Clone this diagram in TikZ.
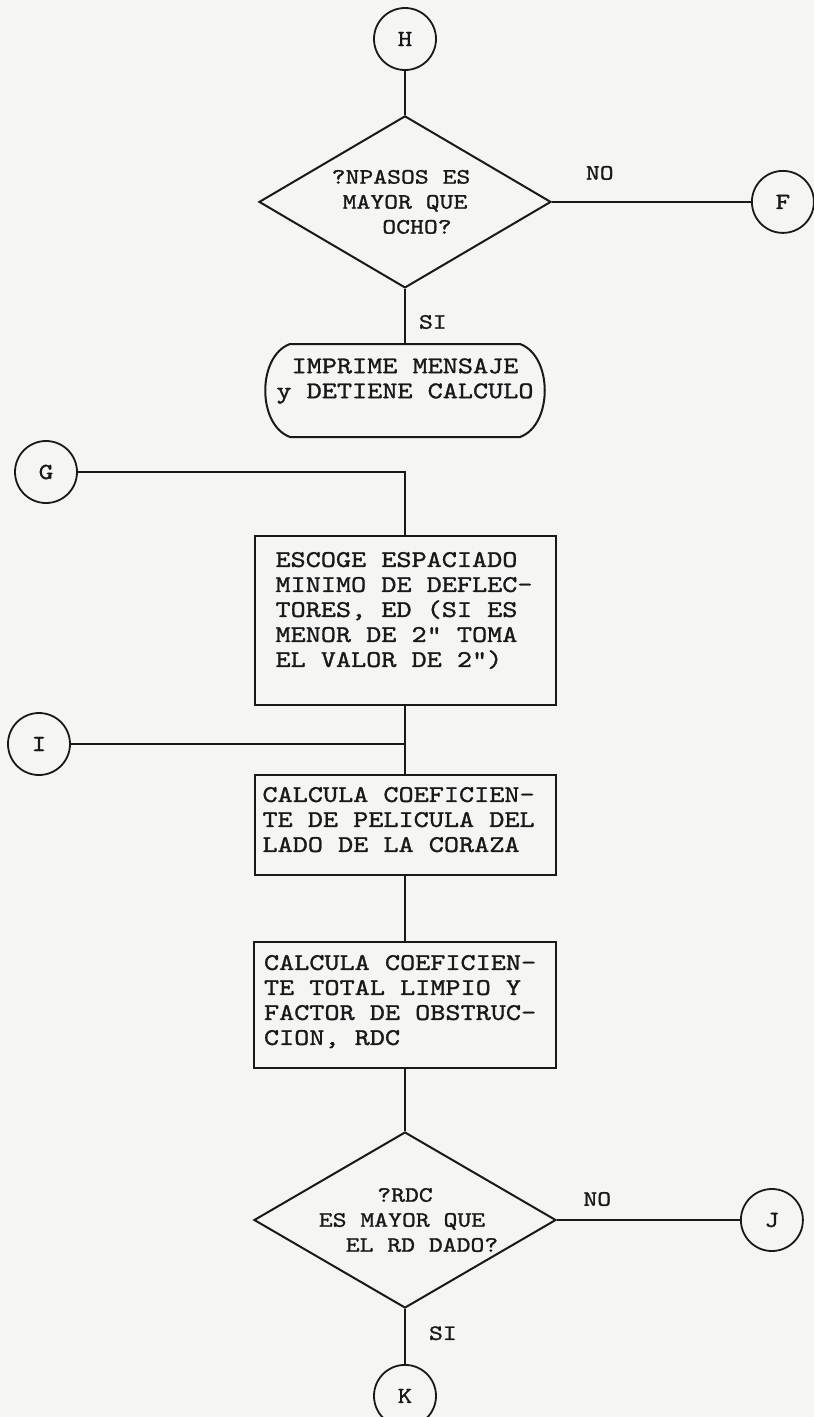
\documentclass[tikz,border=0pt]{standalone}
\usepackage{fontspec}
\usepackage{xcolor}
\usepackage{tikz}
\usetikzlibrary{positioning,shapes.geometric,calc}
\definecolor{fcInk}{RGB}{25,25,25}
\definecolor{fcPaper}{RGB}{245,245,243}
\newfontfamily\fcmono{lmmono10-regular.otf}[FakeStretch=1.2, FakeBold=1.2]
\newcommand{\fcfont}[1]{\fcmono\fontsize{#1}{25}\selectfont}
% shift one centred line sideways without changing its width
\newcommand{\nudge}[2]{\hspace*{#1}#2\hspace*{-#1}}
\tikzset{
  fc/line/.style={line width=2pt, draw=fcInk},
  fc/conn/.style={circle, draw=fcInk, line width=1.8pt, minimum size=62pt,
                  inner sep=0pt, font=\fcfont{23}, text=fcInk},
  fc/box/.style={rectangle, draw=fcInk, line width=2pt, inner sep=0pt,
                 font=\fcfont{24}, text=fcInk},
  fc/decision/.style={diamond, aspect=1.7, draw=fcInk, line width=2pt,
                      inner sep=0pt, align=center, font=\fcfont{22}, text=fcInk},
  fc/term/.style={inner sep=0pt, align=center, font=\fcfont{24}, text=fcInk},
  fc/lbl/.style={inner sep=0pt, font=\fcfont{22}, text=fcInk},
}

\begin{document}
\begin{tikzpicture}[x=1pt, y=-1pt]

  \fill[fcPaper] (0,0) rectangle (814,1417);
  \useasboundingbox (0,0) rectangle (814,1417);

  % ---------------- top: H, test on NPASOS ----------------
  \node[fc/conn] (H) at (405,39) {H};
  \node[fc/decision, minimum width=292pt, minimum height=172pt, below=44pt of H]
    (npasos) {\nudge{-4pt}{?NPASOS ES}\\MAYOR QUE\\\nudge{12pt}{OCHO?}};
  \node[fc/conn, right=199pt of npasos] (F) {F};
  \node[fc/term] (stop) at (405,381) {IMPRIME MENSAJE\\y DETIENE CALCULO};
  \coordinate (stoptop) at ($(stop.center)+(0,-37)$);

  \draw[fc/line] (H) -- (npasos);
  \draw[fc/line] (npasos.east) -- (F.west)
    node[fc/lbl, pos=0.24, above=21pt] {NO};
  \draw[fc/line] (npasos.south) -- (stoptop)
    node[fc/lbl, pos=0.6, right=13pt] {SI};

  % terminal outline: flat top and bottom, bulging sides
  \draw[fc/line] ($(stop.center)+(-115,-37)$) -- ($(stop.center)+(115,-37)$)
    .. controls +(33,12) and +(33,-12) .. ($(stop.center)+(115,56)$)
    -- ($(stop.center)+(-115,56)$)
    .. controls +(-33,-12) and +(-33,12) .. ($(stop.center)+(-115,-37)$) -- cycle;

  % ---------------- main column ----------------
  \node[fc/box, inner xsep=21pt, inner ysep=16pt] (spacing) at (405,620.5)
    {\parbox[c][137pt][t]{259pt}{\raggedright
      ESCOGE ESPACIADO\\MINIMO DE DEFLEC-\\TORES, ED (SI ES\\
      MENOR DE 2" TOMA\\EL VALOR DE 2")}};
  \node[fc/box, inner xsep=8pt, inner ysep=12pt, below=68pt of spacing] (film)
    {\parbox[c][76pt][t]{285pt}{\raggedright
      CALCULA COEFICIEN-\\TE DE PELICULA DEL\\LADO DE LA CORAZA}};
  \node[fc/box, inner xsep=10pt, inner ysep=13pt, below=65pt of film] (clean)
    {\parbox[c][100pt][t]{282pt}{\raggedright
      CALCULA COEFICIEN-\\TE TOTAL LIMPIO Y\\FACTOR DE OBSTRUC-\\CION, RDC}};
  \node[fc/decision, minimum width=302pt, minimum height=176pt, below=62pt of clean]
    (rdc) {?RDC\\\nudge{-6pt}{ES MAYOR QUE}\\\nudge{17pt}{EL RD DADO?}};
  \node[fc/conn, right=183pt of rdc] (J) {J};
  \node[fc/conn, below=55pt of rdc] (K) {K};

  % ---------------- entries G and I ----------------
  \node[fc/conn] (G) at (46,472) {G};
  \node[fc/conn] (I) at (39,744) {I};
  \draw[fc/line] (G.east) -| (spacing.north);
  \draw[fc/line] (I.east) -- (I.east -| spacing.south);

  \draw[fc/line] (spacing) -- (film);
  \draw[fc/line] (film) -- (clean);
  \draw[fc/line] (clean) -- (rdc);
  \draw[fc/line] (rdc.east) -- (J.west)
    node[fc/lbl, pos=0.22, above=13pt] {NO};
  \draw[fc/line] (rdc.south) -- (K.north)
    node[fc/lbl, pos=0.44, right=23pt] {SI};

\end{tikzpicture}
\end{document}
